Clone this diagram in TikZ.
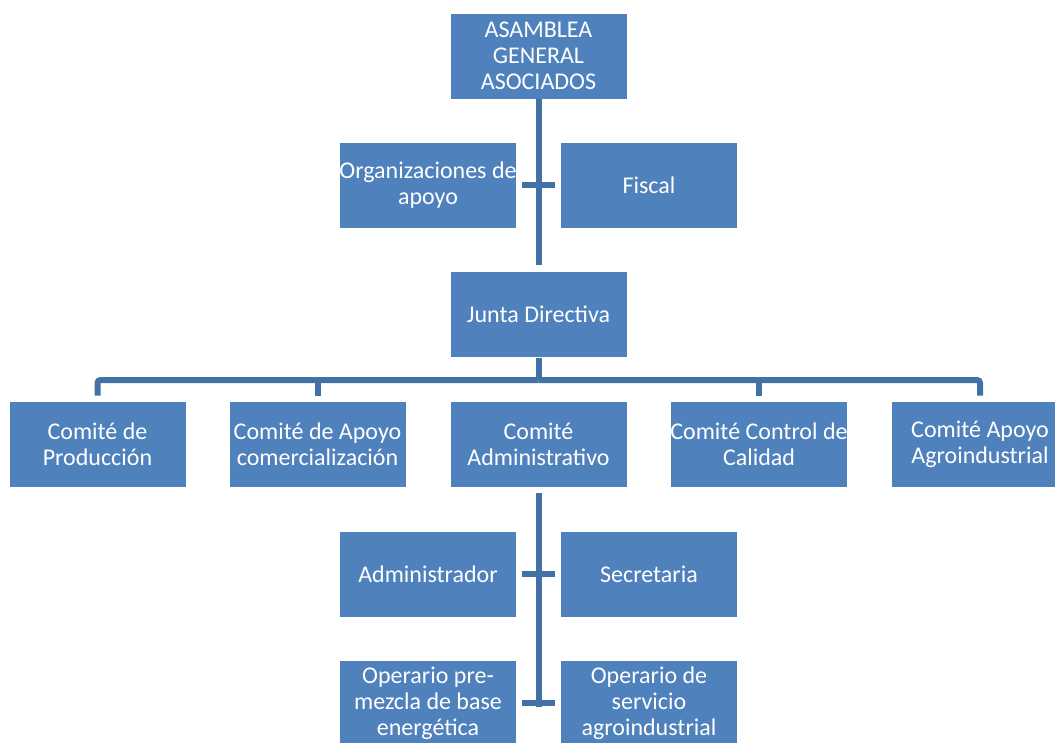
\documentclass[tikz,border=0pt]{standalone}
\usepackage{fontspec}
\setmainfont{Carlito}
\definecolor{boxblue}{HTML}{4F81BD}
\definecolor{lineblue}{HTML}{4271A6}
\begin{document}
\begin{tikzpicture}[x=0.75pt,y=-0.75pt,
  orgbox/.style={rectangle, fill=boxblue, draw=white, line width=0.6pt,
    minimum width=132.75pt, minimum height=64.5pt, inner sep=0pt,
    align=center, text=white, font=\fontsize{18}{19.5}\selectfont},
  conn/.style={draw=lineblue, line width=4.5pt}]
\useasboundingbox (0,0) rectangle (1055,742);
\begin{scope}
\clip (0,0) rectangle (1055,742);
\node[orgbox] (asam) at (538.5,56) {ASAMBLEA\\GENERAL\\ASOCIADOS};
\node[orgbox] (org) at (428,185) {Organizaciones de\\apoyo};
\node[orgbox] (fiscal) at (649,185) {Fiscal};
\node[orgbox] (junta) at (538.5,314.5) {Junta Directiva};
\node[orgbox] (c1) at (97.5,444) {Comité de\\Producción};
\node[orgbox] (c2) at (317.5,444) {Comité de Apoyo\\comercialización};
\node[orgbox] (c3) at (538.5,444) {Comité\\Administrativo};
\node[orgbox] (c4) at (759,444) {Comité Control de\\Calidad};
\node[orgbox] (c5) at (980,444) {Comité Apoyo\\Agroindustrial};
\node[orgbox] (admin) at (428,574) {Administrador};
\node[orgbox] (secr) at (649,574) {Secretaria};
\node[orgbox] (op1) at (428,703) {Operario pre-\\mezcla de base\\energética};
\node[orgbox] (op2) at (649,703) {Operario de\\servicio\\agroindustrial};

\coordinate (t1) at (522,185);
\coordinate (t2) at (555,185);
\coordinate (bus) at (538.5,380);
\coordinate (t3) at (522,574);
\coordinate (t4) at (555,574);
\coordinate (t5) at (522,703);
\coordinate (t6) at (555,703);
\coordinate (bend) at (538.5,707);

% upper spine
\draw[conn, shorten >=4.5pt] (asam.south) -- (junta.north);
\draw[conn] (t1) -- (t2);
% bus
\draw[conn] (junta.south) -- (bus);
\draw[conn, rounded corners=2.25pt, shorten >=3.75pt] (bus) -| (c1.north);
\draw[conn, rounded corners=2.25pt, shorten >=3.75pt] (bus) -| (c5.north);
\draw[conn, shorten >=3.75pt] (c2.north |- bus) -- (c2.north);
\draw[conn, shorten >=3.75pt] (c4.north |- bus) -- (c4.north);
% lower spine
\draw[conn, shorten <=4.5pt] (c3.south) -- (bend);
\draw[conn] (t3) -- (t4);
\draw[conn] (t5) -- (t6);
\end{scope}
\end{tikzpicture}
\end{document}
